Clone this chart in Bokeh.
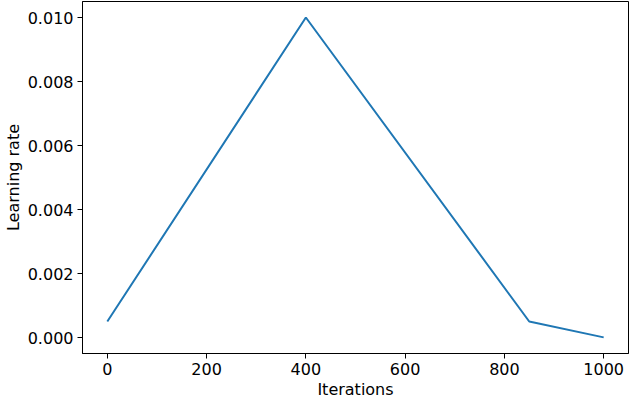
from bokeh.plotting import figure
from bokeh.models import Range1d, FixedTicker, NumeralTickFormatter
from bokeh.embed import file_html
from bokeh.resources import INLINE

iterations = [0, 400, 850, 1000]
learning_rate = [0.0005, 0.01, 0.0005, 0.000004]
x_ticks = [0, 200, 400, 600, 800, 1000]
y_ticks = [0.0, 0.002, 0.004, 0.006, 0.008, 0.010]

p = figure(output_backend="svg", toolbar_location=None,
           frame_width=546, frame_height=352,
           min_border_left=76, min_border_right=1, min_border_top=1, min_border_bottom=48,
           x_range=Range1d(-50, 1050), y_range=Range1d(-0.0005, 0.0105))

p.line(iterations, learning_rate, line_color="#1f77b4", line_width=2)

p.grid.visible = False
p.outline_line_color = "black"
p.outline_line_width = 1
p.outline_line_alpha = 1
p.background_fill_color = "white"
p.border_fill_color = "white"

p.xaxis.ticker = FixedTicker(ticks=x_ticks)
p.yaxis.ticker = FixedTicker(ticks=y_ticks)
p.yaxis.formatter = NumeralTickFormatter(format="0.000")
p.xaxis.axis_label = "Iterations"
p.yaxis.axis_label = "Learning rate"

for ax in (p.xaxis[0], p.yaxis[0]):
    ax.axis_line_color = "black"
    ax.major_tick_line_color = "black"
    ax.major_tick_out = 5
    ax.major_tick_in = 0
    ax.minor_tick_line_color = None
    ax.major_label_text_font = "DejaVu Sans"
    ax.major_label_text_font_size = "16px"
    ax.major_label_text_color = "black"
    ax.major_label_standoff = 4
    ax.axis_label_text_font = "DejaVu Sans"
    ax.axis_label_text_font_size = "16px"
    ax.axis_label_text_font_style = "normal"
    ax.axis_label_text_color = "black"
    ax.axis_label_standoff = 2

open("out.html", "w").write(file_html(p, INLINE))
